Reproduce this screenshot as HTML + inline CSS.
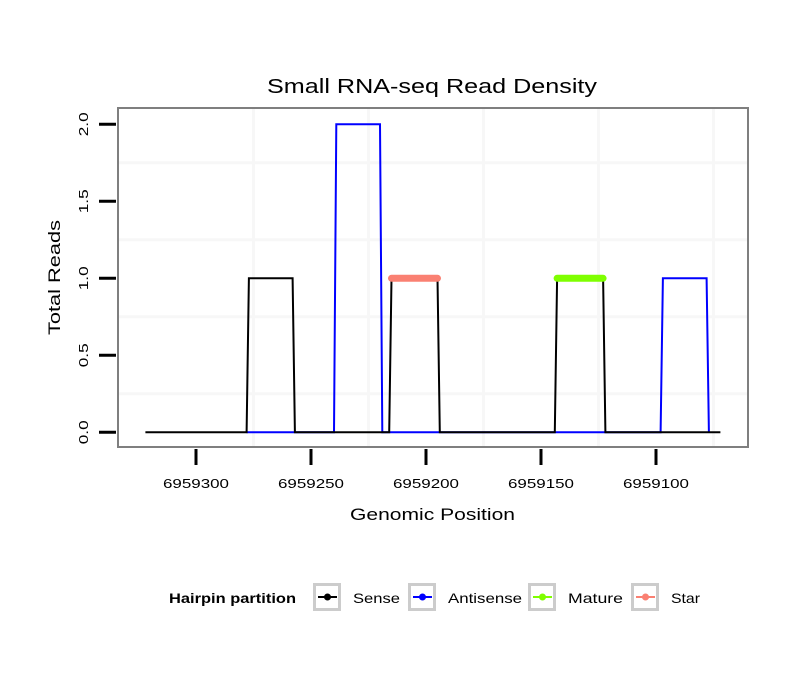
<!DOCTYPE html>
<html><head><meta charset="utf-8"><style>
body{margin:0;background:#fff;}
text{font-family:"Liberation Sans",sans-serif;}
</style></head><body>
<svg id="chart" width="810" height="690">
<rect x="0" y="0" width="810" height="690" fill="#fff"/>
<g id="grid"></g>
<g id="series"></g>
<rect x="118" y="108" width="630" height="339" fill="none" stroke="#7f7f7f" stroke-width="2"/>
<g id="axes"></g>
<text x="267" y="93" font-size="20" textLength="330" lengthAdjust="spacingAndGlyphs">Small RNA-seq Read Density</text>
<text x="350" y="520" font-size="17" textLength="165" lengthAdjust="spacingAndGlyphs">Genomic Position</text>
<text transform="translate(60,335) rotate(-90)" font-size="17" textLength="115" lengthAdjust="spacingAndGlyphs">Total Reads</text>
<g id="legend">
<text x="169" y="603" font-size="14" font-weight="bold" textLength="127" lengthAdjust="spacingAndGlyphs">Hairpin partition</text>
</g>
</svg>
<script>
const senseX=[6959322,6959278,6959277,6959258,6959257,6959216,6959215,6959195,6959194,6959144,6959143,6959123,6959122,6959072];
const senseY=[0,0,1,1,0,0,1,1,0,0,1,1,0,0];
const antiX=[6959278,6959240,6959239,6959220,6959219,6959098,6959097,6959078,6959077];
const antiY=[0,0,2,2,0,0,1,1,0];
const starX=[6959215,6959195];
const starY=[1,1];
const matureX=[6959143,6959123];
const matureY=[1,1];
const xTicks=[6959300,6959250,6959200,6959150,6959100];
const yTicks=[0,0.5,1,1.5,2];
const yTickLabels=["0.0","0.5","1.0","1.5","2.0"];
const legendLabels=["Sense","Antisense","Mature","Star"];
const legendColors=["#000","#0000ff","#7fff00","#fa8072"];
const legendWidths=[47,74,55,29];

const NS="http://www.w3.org/2000/svg";
function xs(p){return 196-(p-6959300)*2.3;}
function ys(v){return 432.3-v*154;}
function mk(tag,attrs,parent){const e=document.createElementNS(NS,tag);for(const k in attrs)e.setAttribute(k,attrs[k]);parent.appendChild(e);return e;}
const grid=document.getElementById('grid'),ser=document.getElementById('series'),axes=document.getElementById('axes'),leg=document.getElementById('legend');
for(let i=0;i<xTicks.length;i++){
  const gx=xs(xTicks[i]-25);
  const l=mk('line',{x1:gx,x2:gx,y1:109,y2:446,stroke:'#f7f7f7','stroke-width':3},grid);
  
  
  const tx=xs(xTicks[i]);
  const t=mk('line',{x1:tx,x2:tx,y1:449,y2:465,stroke:'#000','stroke-width':3},axes);
  
  
  const lb=mk('text',{x:tx-33,y:488,'font-size':13,textLength:66,lengthAdjust:'spacingAndGlyphs'},axes);
  lb.textContent=String(xTicks[i]);
  
  
}
for(let i=0;i<yTicks.length;i++){
  const ty=ys(yTicks[i]);
  if(i<yTicks.length-1){
    const gy=ys(yTicks[i]+0.25);
    const l=mk('line',{x1:119,x2:747,y1:gy,y2:gy,stroke:'#f7f7f7','stroke-width':3},grid);
    
    
  }
  const t=mk('line',{x1:99,x2:116,y1:ty,y2:ty,stroke:'#000','stroke-width':3},axes);
  
  
  const lb=mk('text',{transform:`translate(88,${ty+12}) rotate(-90)`,'font-size':13,textLength:24,lengthAdjust:'spacingAndGlyphs'},axes);
  lb.textContent=yTickLabels[i];
  
  
}
function pts(X,Y){return X.map((x,i)=>xs(x).toFixed(1)+','+ys(Y[i]).toFixed(1)).join(' ');}
const a=mk('polyline',{points:pts(antiX,antiY),fill:'none',stroke:'#0000ff','stroke-width':2},ser);


const s=mk('polyline',{points:pts(senseX,senseY),fill:'none',stroke:'#000','stroke-width':2},ser);


const st=mk('polyline',{points:pts(starX,starY),fill:'none',stroke:'#fa8072','stroke-width':7,'stroke-linecap':'round'},ser);


const m=mk('polyline',{points:pts(matureX,matureY),fill:'none',stroke:'#7fff00','stroke-width':7,'stroke-linecap':'round'},ser);


const boxX=[313,408,528,631];
for(let i=0;i<legendLabels.length;i++){
  const bx=boxX[i];
  const b=mk('rect',{x:bx+1.5,y:584.5,width:25,height:25,fill:'#fff',stroke:'#cccccc','stroke-width':3},leg);
  
  
  mk('line',{x1:bx+5,x2:bx+24,y1:597,y2:597,stroke:legendColors[i],'stroke-width':2},leg);
  mk('circle',{cx:bx+14.5,cy:597,r:3.5,fill:legendColors[i]},leg);
  const t=mk('text',{x:bx+40,y:603,'font-size':14,textLength:legendWidths[i],lengthAdjust:'spacingAndGlyphs'},leg);
  t.textContent=legendLabels[i];
  
  
}
</script>
</body></html>
